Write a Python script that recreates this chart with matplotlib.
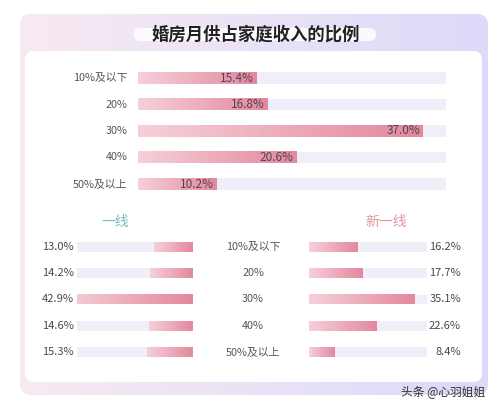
import numpy as np
import matplotlib
matplotlib.use("Agg")
import matplotlib.pyplot as plt
from matplotlib.patches import FancyBboxPatch
from matplotlib.colors import LinearSegmentedColormap

plt.rcParams["font.family"] = ["Noto Sans CJK SC", "DejaVu Sans"]

# data
title = "婚房月供占家庭收入的比例"
categories = ["10%及以下", "20%", "30%", "40%", "50%及以上"]
overall = [15.4, 16.8, 37.0, 20.6, 10.2]
tier1_name = "一线"
tier1 = [13.0, 14.2, 42.9, 14.6, 15.3]
new_tier1_name = "新一线"
new_tier1 = [16.2, 17.7, 35.1, 22.6, 8.4]
watermark = "头条 @心羽姐姐"

W, H = 500, 412
fig = plt.figure(figsize=(W / 100, H / 100), dpi=100)

bar_cmap = LinearSegmentedColormap.from_list("bar", ["#f6d0d9", "#e3889e"])
frame_cmap = LinearSegmentedColormap.from_list("frame", ["#f8eaf2", "#dcdaf9"])
track_color = "#efeef9"
text_color = "#4d4550"


def px_axes(x0, y0, x1, y1):
    # pixel box (top-left origin) -> figure axes
    return fig.add_axes([x0 / W, 1 - y1 / H, (x1 - x0) / W, (y1 - y0) / H])


# background: frame, card, title pill
bg = fig.add_axes([0, 0, 1, 1])
bg.set_xlim(0, W)
bg.set_ylim(H, 0)
bg.axis("off")
frame = FancyBboxPatch((20, 14), 468, 381, boxstyle="round,pad=0,rounding_size=11",
                       fc="none", ec="none")
bg.add_patch(frame)
grad = np.linspace(0, 1, 256).reshape(1, -1)
im = bg.imshow(grad, cmap=frame_cmap, extent=(20, 488, 395, 14), aspect="auto", zorder=1)
im.set_clip_path(frame)
card = FancyBboxPatch((25, 51), 457, 331, boxstyle="round,pad=0,rounding_size=9",
                      fc="white", ec="none", zorder=2)
bg.add_patch(card)
pill = FancyBboxPatch((134, 28), 242, 13, boxstyle="round,pad=0,rounding_size=6.5",
                      fc="white", ec="none", alpha=0.85, zorder=2)
bg.add_patch(pill)
bg.text(256, 34.5, title, ha="center", va="center", fontsize=12.5, fontweight="bold",
        color="#222222", zorder=3)
bg.text(115, 222, tier1_name, ha="center", va="center", fontsize=10, color="#7fb9bb", zorder=3)
bg.text(386, 222, new_tier1_name, ha="center", va="center", fontsize=10, color="#e3959f", zorder=3)
for i, c in enumerate(categories):
    bg.text(253, 247 + i * 26.25, c, ha="center", va="center", fontsize=7.8,
            color="#555555", zorder=3)
bg.text(443, 393, watermark, ha="center", va="center", fontsize=8.5, color="#333333", zorder=3)


def draw_bars(ax, values, xmax, h, reverse=False):
    n = len(values)
    ax.axis("off")
    ax.barh(range(n), [xmax] * n, height=h, color=track_color, zorder=1)
    for i, v in enumerate(values):
        g = np.linspace(0, 1, 128).reshape(1, -1)
        if reverse:
            g = g[:, ::-1]
        ax.imshow(g, cmap=bar_cmap, extent=(0, v, i + h / 2, i - h / 2),
                  aspect="auto", zorder=2)
    ax.set_xlim(*((xmax, 0) if reverse else (0, xmax)))
    ax.set_ylim(n - 0.5, -0.5)


# top overall chart
ax_top = px_axes(138, 64.75, 446, 197.25)
draw_bars(ax_top, overall, 40, 0.42)
for i, v in enumerate(overall):
    ax_top.annotate(f"{v:.1f}%", (v, i), xytext=(-2, 0), textcoords="offset points",
                    ha="right", va="center", fontsize=8.5, color=text_color, zorder=3)
for i, c in enumerate(categories):
    ax_top.annotate(c, (0, i), xytext=(-7.5, 0), textcoords="offset points",
                    ha="right", va="center", fontsize=7.8, color="#555555",
                    annotation_clip=False)

# bottom left: tier 1 cities
ax_l = px_axes(77, 233.9, 193, 365.1)
draw_bars(ax_l, tier1, 38.7, 0.38, reverse=True)
for i, v in enumerate(tier1):
    ax_l.annotate(f"{v:.1f}%", (0, i), xycoords=("axes fraction", "data"),
                  xytext=(-25.5, 0), textcoords="offset points",
                  ha="left", va="center", fontsize=8, color=text_color,
                  annotation_clip=False, zorder=3)

# bottom right: new tier 1 cities
ax_r = px_axes(309, 233.9, 427, 365.1)
draw_bars(ax_r, new_tier1, 39.3, 0.38)
for i, v in enumerate(new_tier1):
    ax_r.annotate(f"{v:.1f}%", (1, i), xycoords=("axes fraction", "data"),
                  xytext=(24.5, 0), textcoords="offset points",
                  ha="right", va="center", fontsize=8, color=text_color,
                  annotation_clip=False, zorder=3)

fig.savefig("out.png", dpi=100)
